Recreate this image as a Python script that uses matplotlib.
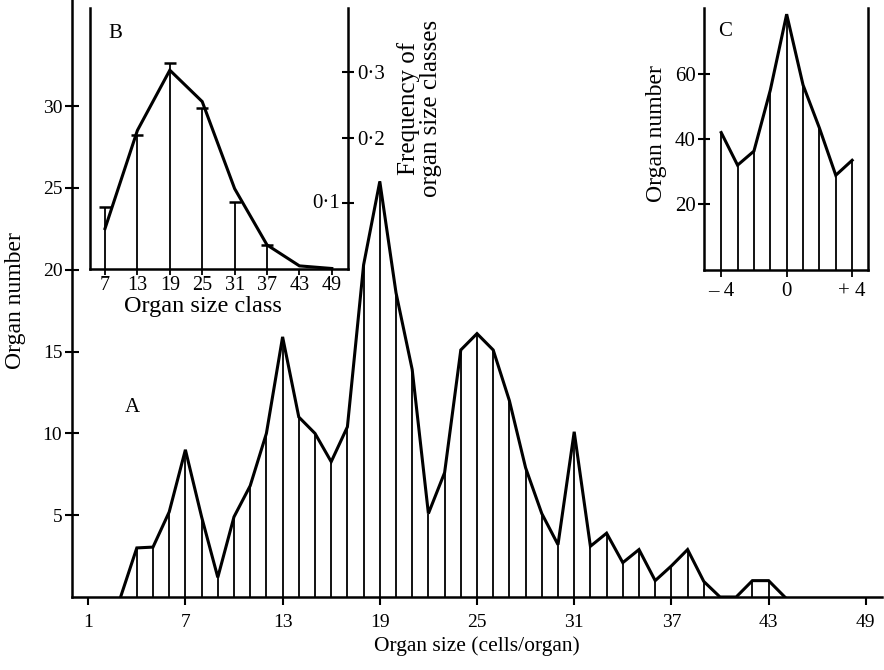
import matplotlib
matplotlib.use("Agg")
import matplotlib.pyplot as plt

plt.rcParams['font.family'] = ['Liberation Serif', 'DejaVu Serif']

# ---- Panel A data ----
sizes_a = list(range(3, 45))
counts_a = [0, 3.0, 3.05, 5.2, 9.0, 4.9, 1.2, 4.9, 6.8, 10.0, 15.9, 11.0, 10.0, 8.27,
            10.4, 20.3, 25.4, 18.6, 13.9, 5.1, 7.6, 15.1, 16.1, 15.1, 12.0, 7.9, 5.1,
            3.2, 10.1, 3.1, 3.9, 2.1, 2.9, 1.0, 1.9, 2.9, 0.95, 0, 0, 1.0, 1.0, 0]
xticks_a = [1, 7, 13, 19, 25, 31, 37, 43, 49]
yticks_a = [5, 10, 15, 20, 25, 30]

# ---- Panel B data ----
classes_b = [7, 13, 19, 25, 31, 37, 43, 49]
freq_line_b = [0.061, 0.211, 0.303, 0.255, 0.122, 0.036, 0.004, 0.0]
freq_bar_b = [0.094, 0.204, 0.314, 0.245, 0.101, 0.036, 0.0, 0.0]
yticks_b = [0.1, 0.2, 0.3]
ytick_labels_b = ['0·1', '0·2', '0·3']

# ---- Panel C data ----
offset_c = [-4, -3, -2, -1, 0, 1, 2, 3, 4]
counts_c = [42, 32, 36.3, 55, 78.3, 56.6, 43.4, 28.9, 33.5]
xticks_c = [-4, 0, 4]
xtick_labels_c = ['– 4', '0', '+ 4']
yticks_c = [20, 40, 60]

W, H = 884, 670
fig = plt.figure(figsize=(W / 100, H / 100), dpi=100)

def px_axes(l, t, r, b):
    return fig.add_axes([l / W, 1 - b / H, (r - l) / W, (b - t) / H])

LW_CURVE = 2.2
LW_BAR = 1.3
LW_SPINE = 1.8

# ---- Main axes A ----
ax = px_axes(72, 0, 882, 597)
ax.set_xlim(0, 50)
ax.set_ylim(0, 597 / 16.36)
ax.plot(sizes_a, counts_a, color='black', lw=LW_CURVE, solid_joinstyle='miter', zorder=3)
vx = [s for s, c in zip(sizes_a, counts_a) if c > 0]
vy = [c for s, c in zip(sizes_a, counts_a) if c > 0]
ax.vlines(vx, 0, vy, color='black', lw=LW_BAR)
for s in ['top', 'right']:
    ax.spines[s].set_visible(False)
for s in ['left', 'bottom']:
    ax.spines[s].set_linewidth(LW_SPINE)
ax.set_xticks(xticks_a)
ax.set_yticks(yticks_a)
ax.tick_params(axis='x', direction='out', length=6, width=1.5, labelsize=14, pad=6)
ax.tick_params(axis='y', direction='inout', length=10, width=1.5, labelsize=14, pad=2)
ax.set_xlabel('Organ size (cells/organ)', fontsize=15.5, labelpad=4)
ax.set_ylabel('Organ number', fontsize=17)
ax.yaxis.set_label_coords(-0.0568, 0.497)
ax.text(132 / W, 1 - 407 / H, 'A', transform=fig.transFigure, fontsize=15,
        ha='center', va='center')

# ---- Inset B ----
axb = px_axes(90, 8, 347.7, 268.5)
axb.set_xlim(4.22, 51.94)
axb.set_ylim(0, 0.398)
axb.plot(classes_b, freq_line_b, color='black', lw=LW_CURVE, solid_joinstyle='miter', zorder=3)
bx = [c for c, f in zip(classes_b, freq_bar_b) if f > 0]
by = [f for f in freq_bar_b if f > 0]
axb.vlines(bx, 0, by, color='black', lw=LW_BAR)
axb.plot(bx, by, linestyle='none', marker='_', markersize=9, mew=1.8, color='black')
axb.spines['top'].set_visible(False)
for s in ['left', 'right', 'bottom']:
    axb.spines[s].set_linewidth(LW_SPINE)
axb.set_xticks(classes_b)
axb.tick_params(axis='x', direction='out', length=4, width=1.3, labelsize=14.5, pad=1.5)
axb.yaxis.tick_right()
axb.set_yticks(yticks_b)
axb.set_yticklabels(['', ytick_labels_b[1], ytick_labels_b[2]])
axb.tick_params(axis='y', direction='inout', length=8, width=1.5, labelsize=15, pad=3)
axb.text(0.97, yticks_b[0], ytick_labels_b[0], transform=axb.get_yaxis_transform(),
         fontsize=15, ha='right', va='center')
axb.set_xlabel('Organ size class', fontsize=17.5)
axb.xaxis.set_label_coords(0.44, -0.105)
fig.text(115 / W, 1 - 33 / H, 'B', fontsize=15, ha='center', va='center')
fig.text(420 / W, 1 - 108 / H, 'Frequency of\norgan size classes', rotation=90,
         fontsize=18, ha='center', va='center', multialignment='center', linespacing=1.0)

# ---- Inset C ----
axc = px_axes(704, 8, 867.7, 269.5)
axc.set_xlim(-5.05, 4.95)
axc.set_ylim(0, 80.2)
axc.plot(offset_c, counts_c, color='black', lw=LW_CURVE, solid_joinstyle='miter', zorder=3)
axc.vlines(offset_c, 0, counts_c, color='black', lw=LW_BAR)
axc.spines['top'].set_visible(False)
for s in ['left', 'right', 'bottom']:
    axc.spines[s].set_linewidth(LW_SPINE)
axc.set_xticks(xticks_c)
axc.set_xticklabels(xtick_labels_c)
axc.set_yticks(yticks_c)
axc.tick_params(axis='x', direction='out', length=5, width=1.3, labelsize=15, pad=4)
axc.tick_params(axis='y', direction='inout', length=8, width=1.5, labelsize=15, pad=2)
axc.set_ylabel('Organ number', fontsize=17)
axc.yaxis.set_label_coords(-0.227, 0.52)
fig.text(725 / W, 1 - 32 / H, 'C', fontsize=15, ha='center', va='center')

fig.savefig('out.png', dpi=100)
